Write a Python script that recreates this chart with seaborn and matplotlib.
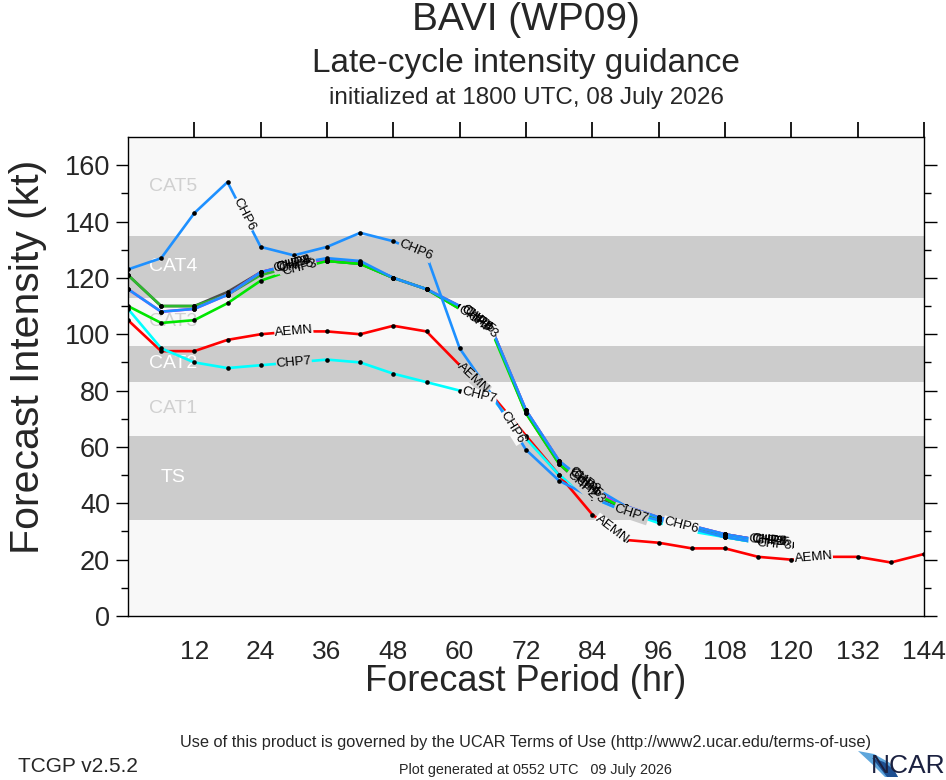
import numpy as np
import pandas as pd
import seaborn as sns
import matplotlib.pyplot as plt
from matplotlib.patches import Polygon

# forecast hours
hours = list(range(0, 121, 6))
hours_aemn = list(range(0, 145, 6))

# intensity guidance (kt)
chp6 = [123, 127, 143, 154, 131, 128, 131, 136, 133, 128, 95, 78, 59, 48, 42, 37, 34, 31, 28, 26, 25]
chp8 = [116, 108, 109, 114, 122, 125, 127, 126, 120, 116, 110, 101, 73, 55, 46, 39, 35, 32, 29, 27, 26]
chp5 = [121, 110, 110, 114, 121, 124, 126, 125, 120, 116, 110, 101, 73, 55, 45, 39, 35, 32, 29, 27, 26]
chp2 = [121, 110, 110, 115, 122, 125, 126, 125, 120, 116, 109, 101, 72, 54, 43, 38, 34, 31, 29, 27, 26]
chp4 = [116, 108, 109, 114, 122, 125, 126.5, 125.5, 120, 116, 110, 101, 73, 55, 45, 39, 35, 32, 29, 27, 26]
chp3 = [110, 104, 105, 111, 119, 123, 126, 125, 120, 116, 109, 100, 72, 54, 44, 38, 34, 31, 28, 26, 25]
chp7 = [109, 95, 90, 88, 89, 90, 91, 90, 86, 83, 80, 77, 63, 50, 42, 37, 33, 30, 28, 26, 25]
aemn = [105, 94, 94, 98, 100, 101, 101, 100, 103, 101, 89, 78, 64, 50, 36, 27, 26, 24, 24, 21, 20, 21, 21, 19, 22]

models = ['CHP2', 'CHP5', 'CHP4', 'CHP3', 'AEMN', 'CHP7', 'CHP8', 'CHP6']
values = [chp2, chp5, chp4, chp3, aemn, chp7, chp8, chp6]
colors = ['#4D4D4D', '#2EB82E', '#FF00FF', '#00E600', '#FF0000', '#00FFFF', '#1E90FF', '#1E90FF']

# where the model names sit along each track (forecast hour)
label_hours = {
    'CHP6': [21, 52, 69.5, 100],
    'CHP8': [30, 63, 82.5, 116],
    'CHP5': [30.5, 63.5, 83, 116.5],
    'CHP2': [29.5, 62.5, 82, 115.5],
    'CHP4': [30, 63, 82.5, 116],
    'CHP3': [31, 64, 83.5, 117],
    'AEMN': [30, 62.5, 87.5, 124],
    'CHP7': [30, 63.5, 91],
}

# intensity categories
cat_names = ['TS', 'CAT1', 'CAT2', 'CAT3', 'CAT4', 'CAT5']
cat_bounds = [34, 64, 83, 96, 113, 135, 170]
cat_shaded = [True, False, True, False, True, False]

xtick_vals = list(range(12, 145, 12))
ytick_vals = list(range(0, 161, 20))

FACE = '#F8F8F8'
BAND = '#CCCCCC'

sns.set_theme(style='ticks')
plt.rcParams['font.family'] = ['Liberation Sans', 'DejaVu Sans']

fig = plt.figure(figsize=(9.46, 7.8), dpi=100)
ax = fig.add_axes([128 / 946, 164 / 780, 796 / 946, 479 / 780])
ax.set_facecolor(FACE)
ax.set_xlim(0, 144)
ax.set_ylim(0, 170)

for i, name in enumerate(cat_names):
    lo, hi = cat_bounds[i], cat_bounds[i + 1]
    if cat_shaded[i]:
        ax.axhspan(lo, hi, color=BAND, lw=0, zorder=0)
    ax.text(8.2, (lo + hi) / 2, name, ha='center', va='center', fontsize=14,
            color='white' if cat_shaded[i] else '#D0D0D0', zorder=1)

frames = []
for name, vals in zip(models, values):
    xs = hours_aemn if name == 'AEMN' else hours
    frames.append(pd.DataFrame({'hour': xs, 'kt': vals, 'model': name}))
df = pd.concat(frames, ignore_index=True)

for name, col in zip(models, colors):
    sub = df[df['model'] == name]
    sns.lineplot(data=sub, x='hour', y='kt', color=col, linewidth=1.9,
                 estimator=None, sort=False, ax=ax, zorder=2)
sns.scatterplot(data=df, x='hour', y='kt', color='black', s=11, linewidth=0,
                ax=ax, zorder=2.5, legend=False)


def band_colour(v):
    for i in range(len(cat_names)):
        if cat_shaded[i] and cat_bounds[i] <= v <= cat_bounds[i + 1]:
            return BAND
    return FACE


for name, vals in zip(models, values):
    xs = np.array(hours_aemn if name == 'AEMN' else hours, dtype=float)
    ys = np.array(vals, dtype=float)
    for h in label_hours[name]:
        v = np.interp(h, xs, ys)
        j = min(max(np.searchsorted(xs, h), 1), len(xs) - 1)
        p0 = ax.transData.transform((xs[j - 1], ys[j - 1]))
        p1 = ax.transData.transform((xs[j], ys[j]))
        ang = np.degrees(np.arctan2(p1[1] - p0[1], p1[0] - p0[0]))
        bg = band_colour(v)
        ax.text(h, v, name, rotation=ang, rotation_mode='anchor', ha='center', va='center',
                fontsize=9.5, color=bg, zorder=3,
                bbox=dict(boxstyle='square,pad=0.02', fc=bg, ec='none'))
        ax.text(h, v, name, rotation=ang, rotation_mode='anchor', ha='center', va='center',
                fontsize=9.5, color='black', zorder=6)

ax.set_xticks(xtick_vals)
ax.set_yticks(ytick_vals)
ax.set_yticks(list(range(10, 170, 20)), minor=True)
ax.tick_params(axis='x', which='major', direction='out', length=11, top=True,
               bottom=False, labelsize=19, pad=6, color='black')
ax.tick_params(axis='y', which='major', direction='out', length=9, right=True,
               labelsize=19.5, pad=4, color='black', width=1)
ax.tick_params(axis='y', which='minor', direction='out', length=5, right=True,
               color='black', width=1)
for s in ax.spines.values():
    s.set_color('black')
    s.set_linewidth(1)

ax.set_xlabel('Forecast Period (hr)', fontsize=26)
ax.set_ylabel('Forecast Intensity (kt)', fontsize=29.5)
ax.xaxis.set_label_coords(0.5, -0.100)
ax.yaxis.set_label_coords(-0.102, 0.54)

# titles
xc = 526 / 946
fig.text(xc, 1 - 30 / 780, 'BAVI (WP09)', ha='center', va='baseline', fontsize=28)
fig.text(xc, 1 - 72 / 780, 'Late-cycle intensity guidance', ha='center', va='baseline', fontsize=24)
fig.text(xc, 1 - 104 / 780, 'initialized at 1800 UTC, 08 July 2026', ha='center',
         va='baseline', fontsize=17.5)

# footer
fig.text(525 / 946, 1 - 742 / 780,
         'Use of this product is governed by the UCAR Terms of Use (http://www2.ucar.edu/terms-of-use)',
         ha='center', va='center', fontsize=11.8)
fig.text(18 / 946, 1 - 766 / 780, 'TCGP v2.5.2', ha='left', va='center', fontsize=15)
fig.text(535 / 946, 1 - 770 / 780, 'Plot generated at 0552 UTC   09 July 2026',
         ha='center', va='center', fontsize=10.4)

# NCAR logo
sw1 = [(858, 751), (874, 754), (890, 763), (898, 777), (885, 777), (872, 764)]
sw2 = [(872, 758), (884, 762), (894, 770), (898, 777), (887, 777), (880, 768)]
fig.patches.append(Polygon([(x / 946, 1 - y / 780) for x, y in sw1], closed=True,
                           transform=fig.transFigure, fc='#5EA6DC', ec='none'))
fig.patches.append(Polygon([(x / 946, 1 - y / 780) for x, y in sw2], closed=True,
                           transform=fig.transFigure, fc='#1D4F91', ec='none'))
fig.text(945 / 946, 1 - 778 / 780, 'NCAR', ha='right', va='bottom', fontsize=19,
         color='#1B2140')

fig.savefig('out.png', dpi=100)
